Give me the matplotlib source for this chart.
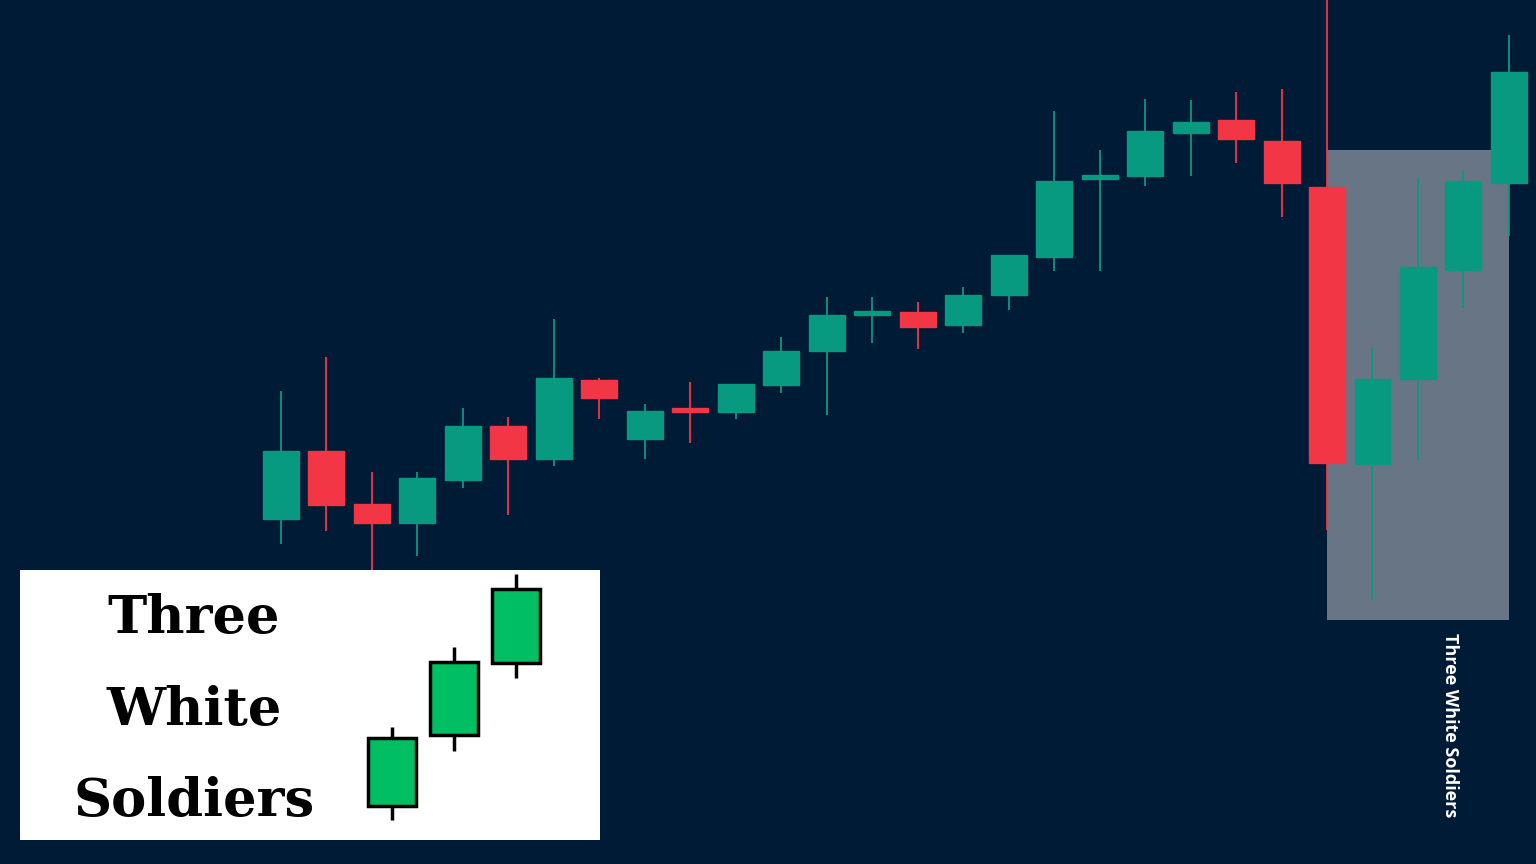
import matplotlib.pyplot as plt
from matplotlib.patches import Rectangle

# main chart OHLC
opens = [34.5, 41.3, 36.0, 34.1, 38.4, 43.8, 40.5, 48.4, 42.5, 45.6, 45.2, 47.9, 51.3, 54.9,
         55.2, 53.9, 56.9, 60.7, 68.5, 68.8, 73.1, 74.4, 72.3, 67.7, 40.0, 48.5, 59.4, 68.1]
highs = [47.3, 50.7, 39.2, 39.2, 45.6, 44.7, 54.5, 48.6, 46.0, 48.2, 48.0, 52.7, 56.7, 56.7,
         56.2, 57.7, 60.9, 75.3, 71.4, 76.5, 76.4, 77.2, 77.5, 88.4, 51.6, 68.6, 69.3, 82.9]
lows = [32.0, 33.3, 28.9, 30.8, 37.6, 34.9, 39.8, 44.5, 40.5, 42.1, 44.5, 47.1, 44.9, 52.1,
        51.5, 53.1, 55.4, 59.3, 59.3, 67.8, 68.8, 70.1, 64.7, 33.4, 26.4, 40.4, 55.6, 62.8]
closes = [41.3, 35.9, 34.1, 38.6, 43.8, 40.5, 48.6, 46.6, 45.3, 45.2, 48.0, 51.3, 54.9, 55.3,
          53.7, 56.9, 60.9, 68.3, 68.9, 73.3, 74.2, 72.5, 68.1, 40.1, 48.5, 59.7, 68.3, 79.2]

# pattern zone
zone_start, zone_end = 23, 27
zone_low, zone_high = 24.4, 71.4
zone_label = "Three White Soldiers"

# inset candles
ins_open = [34, 105, 177]
ins_high = [113, 193, 266]
ins_low = [20, 89, 162]
ins_close = [102, 178, 251]
ins_words = ["Three", "White", "Soldiers"]

BG = "#001B36"
UP = "#089981"
DOWN = "#F23645"

fig = plt.figure(figsize=(15.36, 8.64), dpi=100)
fig.patch.set_facecolor(BG)
ax = fig.add_axes([0, 0, 1, 1])
ax.set_facecolor(BG)
ax.set_xlim(-6.178, 27.595)
ax.set_ylim(0, 86.4)
ax.axis("off")

ax.add_patch(Rectangle((zone_start, zone_low), zone_end - zone_start, zone_high - zone_low,
                       facecolor="#677585", edgecolor="none", zorder=1))
ax.text(25.7, 13.9, zone_label, rotation=-90, color="white", fontsize=13,
        fontweight="bold", family=["Open Sans", "DejaVu Sans"], ha="center", va="center", zorder=3)

bw = 0.79
for i, (o, h, l, c) in enumerate(zip(opens, highs, lows, closes)):
    col = UP if c >= o else DOWN
    ax.vlines(i, l, h, color=col, linewidth=1.3, zorder=2)
    ax.add_patch(Rectangle((i - bw / 2, min(o, c)), bw, max(abs(c - o), 0.35),
                           facecolor=col, edgecolor=col, linewidth=1, zorder=2))

# white inset
ins = fig.add_axes([20 / 1536, 24 / 864, 580 / 1536, 270 / 864])
ins.set_facecolor("white")
ins.set_xlim(-6.0, 3.35)
ins.set_ylim(0, 270)
ins.set_xticks([])
ins.set_yticks([])
for s in ins.spines.values():
    s.set_visible(False)

for i, (o, h, l, c) in enumerate(zip(ins_open, ins_high, ins_low, ins_close)):
    ins.vlines(i, l, h, color="black", linewidth=2.5, zorder=1)
    ins.add_patch(Rectangle((i - 0.385, o), 0.77, c - o, facecolor="#00BF63",
                            edgecolor="black", linewidth=2.5, zorder=2))

for word, yb in zip(ins_words, [0.767, 0.426, 0.089]):
    ins.text(0.30, yb, word, transform=ins.transAxes, ha="center", va="baseline",
             fontsize=38, fontweight="bold", family="DejaVu Serif", color="black")

fig.savefig("out.png", dpi=100, facecolor=BG)
